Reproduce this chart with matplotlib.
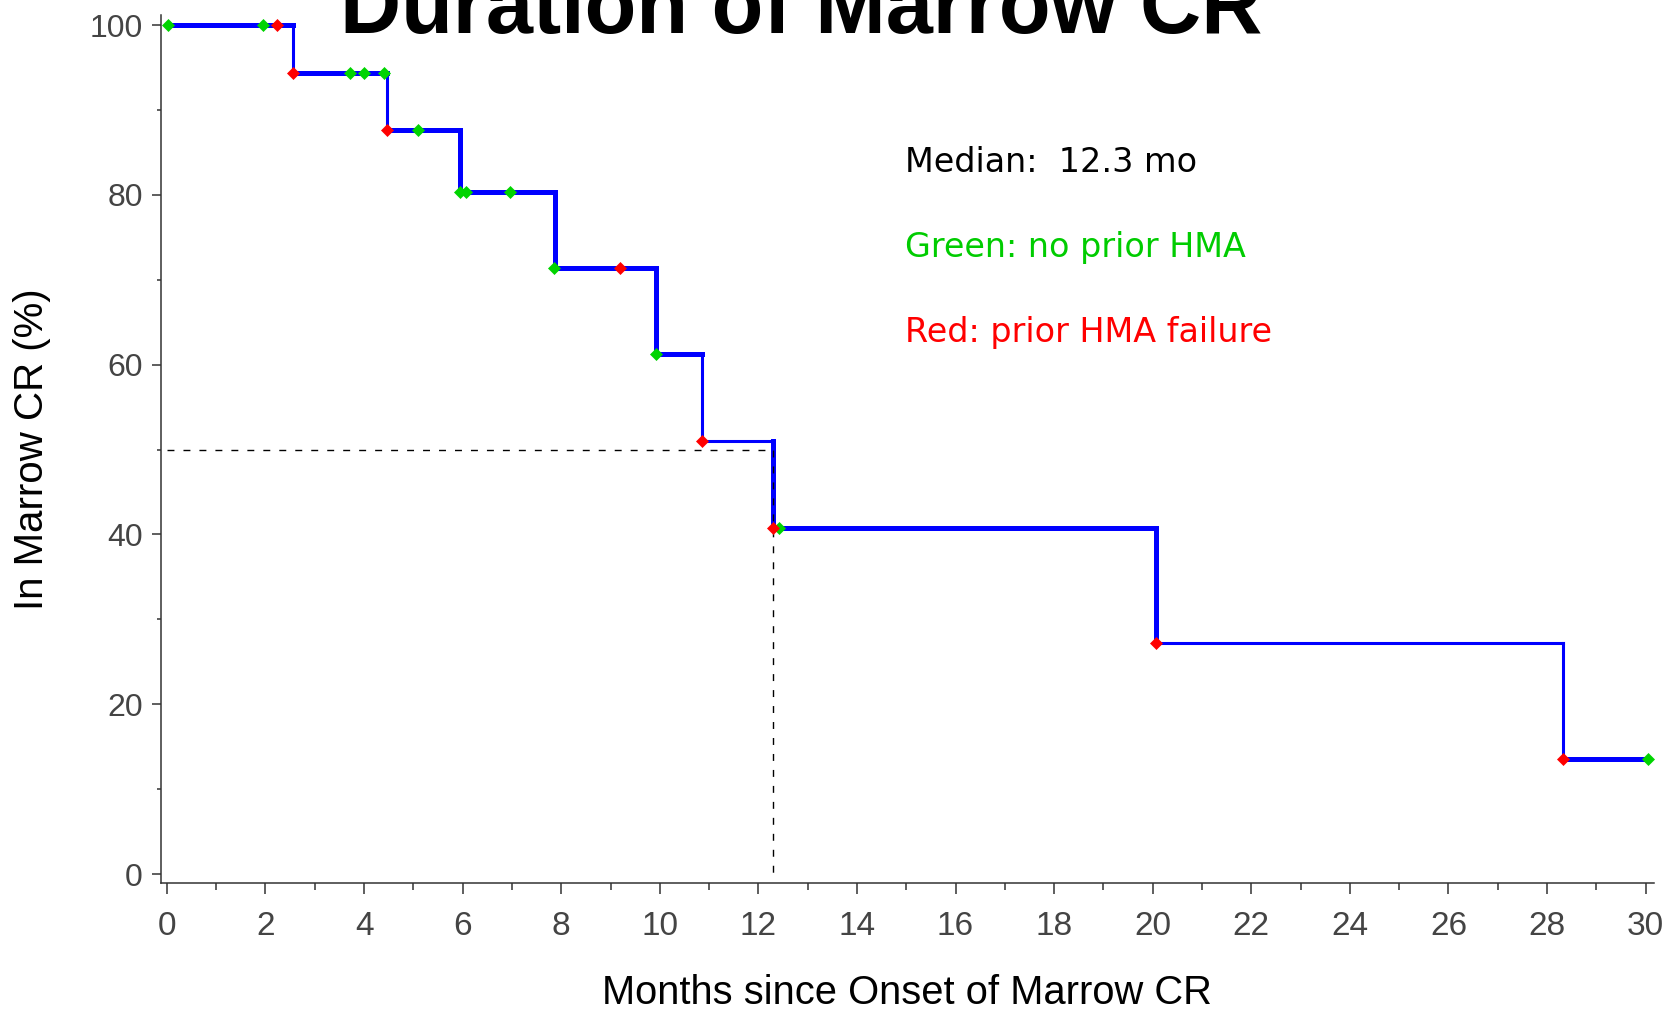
import numpy as np
import matplotlib
matplotlib.use('Agg')
import matplotlib.pyplot as plt

# Kaplan-Meier curve
step_times = [0, 2.56, 4.47, 5.95, 7.87, 9.92, 10.85, 12.30, 20.07, 28.33]
step_surv = [100, 94.4, 87.6, 80.3, 71.4, 61.2, 51.0, 40.8, 27.2, 13.6]
end_time = 30.05
median_time = 12.3

# patients marked on the curve
green_x = [0.03, 1.95, 3.71, 3.99, 4.40, 5.10, 5.94, 6.07, 6.97, 7.85, 9.93, 12.41, 30.05]
green_y = [100, 100, 94.4, 94.4, 94.4, 87.6, 80.3, 80.3, 80.3, 71.4, 61.2, 40.8, 13.6]
red_x = [2.23, 2.56, 4.47, 9.20, 10.85, 12.30, 20.07, 28.33]
red_y = [100, 94.4, 87.6, 71.4, 51.0, 40.8, 27.2, 13.6]

xticks = list(range(0, 31, 2))
yticks = list(range(0, 101, 20))

# line thickness of each flat part and each drop (the picture is not uniform)
thick, thin = 3.6, 2.2
h_lw = [thick, thick, thick, thick, thick, thick, thin, thick, thin, thick]
v_lw = [thin, thin, thick, thick, thick, thin, thick, thick, thin]

BLUE = '#0000ff'
GREEN = '#00d400'
RED = '#ff0000'
SANS = ['Liberation Sans', 'DejaVu Sans']

fig = plt.figure(figsize=(16.75, 10.09), dpi=100)
ax = fig.add_axes([161/1675, 1 - 883/1009, 1493/1675, 868/1009])

ends = step_times[1:] + [end_time]
for i in range(len(step_surv)):
    ax.plot([step_times[i], ends[i]], [step_surv[i], step_surv[i]],
            color=BLUE, lw=h_lw[i], solid_capstyle='projecting', zorder=2)
for i in range(len(step_surv) - 1):
    ax.plot([step_times[i+1], step_times[i+1]], [step_surv[i], step_surv[i+1]],
            color=BLUE, lw=v_lw[i], solid_capstyle='projecting', zorder=2)

# median guide lines
ax.plot([0, median_time], [50, 50], color='black', lw=1.0, dashes=(5, 6.5), zorder=3)
ax.plot([median_time, median_time], [50, 0], color='black', lw=1.0, dashes=(5, 6.5), zorder=3)

ax.plot(green_x, green_y, 'D', ms=6.5, color=GREEN, mec=GREEN, mew=0.5, zorder=4, clip_on=False)
ax.plot(red_x, red_y, 'D', ms=6.5, color=RED, mec=RED, mew=0.5, zorder=4, clip_on=False)

ax.set_xlim(-0.12, 30.17)
ax.set_ylim(-1.06, 101.18)
ax.set_xticks(xticks)
ax.set_xticks(range(1, 30, 2), minor=True)
ax.set_yticks(yticks)
ax.set_yticks(range(10, 100, 20), minor=True)
ax.set_xticklabels([str(v) for v in xticks], family=SANS, fontsize=24, color='#444444')
ax.set_yticklabels([str(v) for v in yticks], family=SANS, fontsize=23, color='#444444')

for s in ['top', 'right']:
    ax.spines[s].set_visible(False)
for s in ['left', 'bottom']:
    ax.spines[s].set_color('#333333')
    ax.spines[s].set_linewidth(1.1)
ax.tick_params(axis='x', which='major', direction='out', length=8, width=1.1, color='#333333', pad=12)
ax.tick_params(axis='x', which='minor', direction='out', length=5, width=1.1, color='#333333')
ax.tick_params(axis='y', which='major', direction='out', length=6.5, width=1.1, color='#333333', pad=6.5)
ax.tick_params(axis='y', which='minor', direction='out', length=3, width=1.1, color='#333333')

# annotations
ax.text(14.98, 82.7, 'Median:  12.3 mo', fontsize=24, color='black', va='baseline', family='DejaVu Sans')
ax.text(14.98, 72.7, 'Green: no prior HMA', fontsize=24, color='#00cc00', va='baseline', family='DejaVu Sans')
ax.text(14.98, 62.7, 'Red: prior HMA failure', fontsize=24, color=RED, va='baseline', family='DejaVu Sans')

fig.text(801/1675, 1 - 33/1009, 'Duration of Marrow CR', ha='center', va='baseline',
         fontsize=61, fontweight='bold', family=SANS)
fig.text(907/1675, 1 - 1004/1009, 'Months since Onset of Marrow CR', ha='center', va='baseline',
         fontsize=28.7, family=SANS)
fig.text(43/1675, 1 - 449/1009, 'In Marrow CR (%)', ha='center', va='baseline', rotation=90,
         rotation_mode='anchor', fontsize=29, family=SANS)

plt.savefig('out.png', dpi=100)
